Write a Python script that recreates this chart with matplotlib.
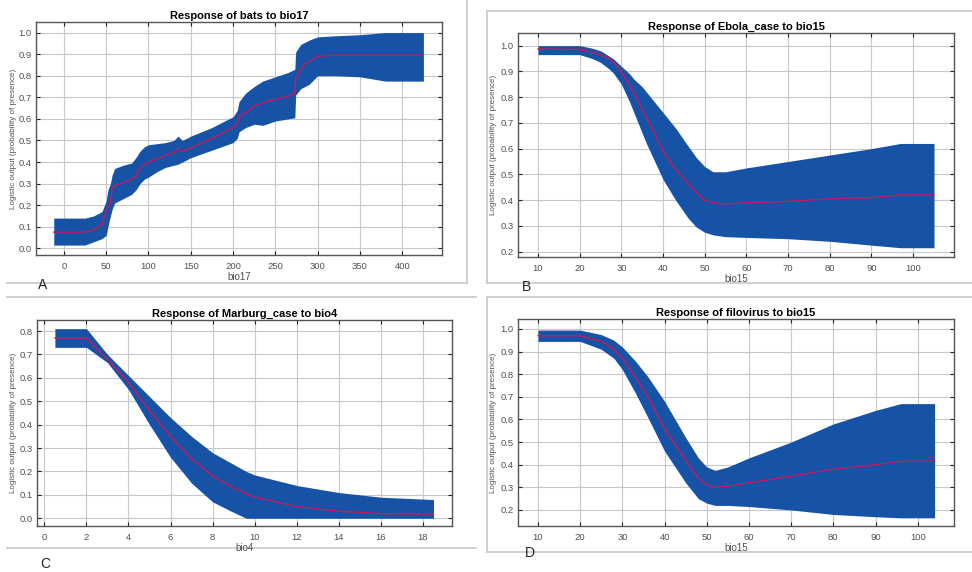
import numpy as np
import matplotlib
matplotlib.use('Agg')
import matplotlib.pyplot as plt
from matplotlib.lines import Line2D

plt.rcParams['font.family'] = ['Liberation Sans', 'DejaVu Sans']

# A: bats vs bio17
a_x = [-12, 25, 35, 45, 50, 52, 55, 57, 60, 70, 80, 85, 90, 95, 100, 110, 120, 130, 135, 140,
       150, 175, 200, 205, 207, 215, 225, 235, 250, 265, 273, 274, 280, 285, 290, 300, 320, 350, 380, 425]
a_mean = [0.075, 0.075, 0.085, 0.11, 0.17, 0.19, 0.21, 0.28, 0.29, 0.305, 0.32, 0.335, 0.37, 0.39, 0.40,
          0.415, 0.43, 0.445, 0.46, 0.45, 0.465, 0.51, 0.56, 0.575, 0.61, 0.63, 0.66, 0.675, 0.69, 0.705,
          0.715, 0.79, 0.83, 0.855, 0.865, 0.89, 0.895, 0.895, 0.895, 0.895]
a_upper = [0.14, 0.14, 0.15, 0.17, 0.22, 0.27, 0.30, 0.34, 0.37, 0.385, 0.395, 0.42, 0.45, 0.47, 0.48,
           0.485, 0.49, 0.50, 0.52, 0.50, 0.52, 0.56, 0.61, 0.64, 0.68, 0.72, 0.75, 0.775, 0.795, 0.815,
           0.83, 0.91, 0.945, 0.955, 0.965, 0.98, 0.985, 0.99, 1.0, 1.0]
a_lower = [0.015, 0.015, 0.03, 0.045, 0.06, 0.10, 0.15, 0.18, 0.21, 0.23, 0.25, 0.27, 0.30, 0.32, 0.33,
           0.355, 0.375, 0.385, 0.39, 0.40, 0.42, 0.455, 0.49, 0.51, 0.54, 0.56, 0.575, 0.57, 0.59, 0.60,
           0.605, 0.71, 0.74, 0.75, 0.76, 0.80, 0.80, 0.795, 0.775, 0.775]

# B: Ebola_case vs bio15
b_x = [10, 20, 23, 25, 27, 28, 30, 32, 33, 35, 36, 38, 40, 43, 46, 48, 50, 52, 55, 60, 70, 80, 90, 97, 105]
b_mean = [0.987, 0.985, 0.975, 0.965, 0.95, 0.94, 0.90, 0.845, 0.815, 0.75, 0.72, 0.66, 0.59, 0.52,
          0.465, 0.43, 0.40, 0.39, 0.385, 0.39, 0.395, 0.405, 0.41, 0.42, 0.42]
b_upper = [1.0, 1.0, 0.99, 0.98, 0.96, 0.95, 0.92, 0.89, 0.87, 0.84, 0.82, 0.78, 0.74, 0.68, 0.61,
           0.565, 0.53, 0.51, 0.51, 0.525, 0.55, 0.575, 0.60, 0.62, 0.62]
b_lower = [0.965, 0.965, 0.95, 0.935, 0.91, 0.895, 0.85, 0.78, 0.74, 0.66, 0.62, 0.55, 0.48, 0.40,
           0.33, 0.295, 0.275, 0.265, 0.258, 0.255, 0.25, 0.24, 0.225, 0.215, 0.215]

# C: Marburg_case vs bio4
c_x = [0.5, 2, 3, 4, 5, 6, 7, 8, 9, 9.6, 10, 12, 14, 16, 18.5]
c_mean = [0.77, 0.77, 0.68, 0.58, 0.46, 0.35, 0.255, 0.18, 0.13, 0.105, 0.09, 0.05, 0.03, 0.02, 0.018]
c_upper = [0.81, 0.81, 0.70, 0.61, 0.52, 0.43, 0.35, 0.28, 0.23, 0.20, 0.185, 0.14, 0.11, 0.09, 0.08]
c_lower = [0.73, 0.73, 0.665, 0.55, 0.40, 0.26, 0.15, 0.07, 0.025, 0.0, 0.0, 0.0, 0.0, 0.0, 0.0]

# D: filovirus vs bio15
d_x = [10, 20, 25, 28, 30, 33, 36, 40, 45, 48, 50, 52, 55, 60, 70, 80, 90, 96, 104]
d_mean = [0.97, 0.97, 0.945, 0.91, 0.87, 0.79, 0.70, 0.56, 0.42, 0.34, 0.31, 0.30, 0.305, 0.32,
          0.35, 0.38, 0.40, 0.415, 0.415]
d_upper = [0.995, 0.995, 0.975, 0.95, 0.92, 0.86, 0.79, 0.68, 0.52, 0.43, 0.39, 0.375, 0.39, 0.43,
           0.50, 0.58, 0.64, 0.67, 0.67]
d_lower = [0.945, 0.945, 0.91, 0.87, 0.82, 0.72, 0.61, 0.46, 0.32, 0.25, 0.23, 0.22, 0.22, 0.215,
           0.20, 0.18, 0.17, 0.165, 0.165]

BAND = '#1652a5'
LINE = '#c8185e'
W, H = 972, 572

fig = plt.figure(figsize=(W / 100, H / 100), dpi=100)
fig.patch.set_facecolor('white')


def px_axes(l, t, r, b):
    return fig.add_axes([l / W, 1 - b / H, (r - l) / W, (b - t) / H])


def panel(ax, x, mean, lo, hi, title, xlab, xlim, ylim, xticks, yticks):
    ax.fill_between(x, lo, hi, color=BAND, lw=0, zorder=2)
    ax.plot(x, mean, color=LINE, lw=1.0, zorder=3)
    ax.set_xlim(*xlim)
    ax.set_ylim(*ylim)
    ax.set_xticks(xticks)
    ax.set_yticks(yticks)
    ax.set_yticklabels(['%.1f' % v for v in yticks])
    ax.grid(True, color='#c8c8c8', lw=0.8, zorder=1)
    ax.set_axisbelow(True)
    ax.tick_params(direction='in', length=3, width=0.8, top=True, right=True,
                   labelsize=6.8, colors='#222222', labelcolor='#505050', pad=3)
    ax.tick_params(axis='x', pad=5)
    for s in ax.spines.values():
        s.set_color('#555555')
        s.set_linewidth(1.0)
    ax.set_title(title, fontsize=8, fontweight='bold', pad=2)
    ax.set_xlabel(xlab, fontsize=7, color='#505050', labelpad=1)
    ax.set_ylabel('Logistic output (probability of presence)', fontsize=5.8, color='#505050')
    ax.yaxis.set_label_coords(-0.048, 0.5)


axA = px_axes(36, 22, 442, 255)
panel(axA, a_x, a_mean, a_lower, a_upper, 'Response of bats to bio17', 'bio17',
      (-33, 447), (-0.031, 1.049), np.arange(0, 401, 50), np.round(np.arange(0, 1.01, 0.1), 1))

axB = px_axes(518, 33, 954, 257)
panel(axB, b_x, b_mean, b_lower, b_upper, 'Response of Ebola_case to bio15', 'bio15',
      (5.2, 109.8), (0.179, 1.049), np.arange(10, 101, 10), np.round(np.arange(0.2, 1.01, 0.1), 1))

axC = px_axes(37, 320, 452, 526)
panel(axC, c_x, c_mean, c_lower, c_upper, 'Response of Marburg_case to bio4', 'bio4',
      (-0.35, 19.38), (-0.033, 0.847), np.arange(0, 19, 2), np.round(np.arange(0, 0.81, 0.1), 1))

axD = px_axes(518, 319, 954, 526)
panel(axD, d_x, d_mean, d_lower, d_upper, 'Response of filovirus to bio15', 'bio15',
      (5.26, 108.6), (0.129, 1.044), np.arange(10, 101, 10), np.round(np.arange(0.2, 1.01, 0.1), 1))

# light gray panel frames
frame = '#c8c8c8'
segs = [
    [(7, 283), (467, 283)], [(467, 0), (467, 283)],
    [(487, 11), (972, 11)], [(487, 11), (487, 283)], [(487, 283), (972, 283)],
    [(7, 297), (476, 297)], [(7, 548), (476, 548)],
    [(487, 297), (972, 297)], [(487, 297), (487, 552)], [(487, 552), (972, 552)],
]
for (x0, y0), (x1, y1) in segs:
    fig.add_artist(Line2D([x0 / W, x1 / W], [1 - y0 / H, 1 - y1 / H], color=frame, lw=1.2, zorder=0))

for lab, x, y in [('A', 43, 285), ('B', 526, 287), ('C', 45, 564), ('D', 530, 553)]:
    fig.text(x / W, 1 - y / H, lab, fontsize=10, ha='center', va='center', color='#222222')

fig.savefig('out.png', dpi=100)
